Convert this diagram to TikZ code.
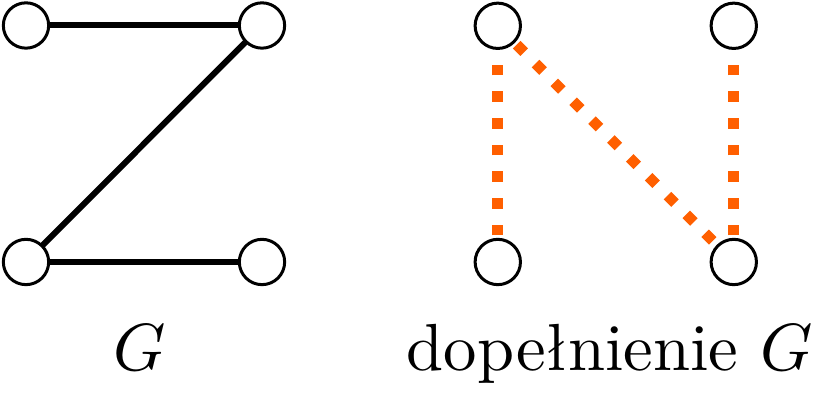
\documentclass[tikz,border=0pt]{standalone}
\usetikzlibrary{backgrounds}
\definecolor{dotorange}{RGB}{255,95,0}
\begin{document}
\begin{tikzpicture}[x=0.15pt,y=-0.15pt,
  vtx/.style={circle,draw=black,fill=white,line width=0.45pt,minimum size=6.8pt,inner sep=0pt},
  gedge/.style={line width=0.9pt,black},
  coedge/.style={line width=1.6pt,dotorange,dash pattern=on 1.6pt off 2.4pt},
  lbl/.style={inner sep=0pt,anchor=base,font=\fontsize{10}{12}\selectfont}]
\useasboundingbox (0,0) rectangle (835,404);
% graph G
\node[vtx] (a1) at (26,25.5) {};
\node[vtx] (a2) at (262,25.5) {};
\node[vtx] (a3) at (26,262) {};
\node[vtx] (a4) at (262,262) {};
% complement
\node[vtx] (b1) at (497.8,25.8) {};
\node[vtx] (b2) at (733.8,25.8) {};
\node[vtx] (b3) at (497.8,262) {};
\node[vtx] (b4) at (733.8,262) {};
\begin{pgfonlayer}{background}
\draw[gedge] (a1.center) -- (a2.center);
\draw[gedge] (a2.center) -- (a3.center);
\draw[gedge] (a3.center) -- (a4.center);
\draw[coedge] (b3.center) -- (b1.center);
\draw[coedge] (b4.center) -- (b2.center);
\draw[coedge] (b1.center) -- (b4.center);
\end{pgfonlayer}
\node[lbl] (lg) at (140,371) {$G$};
\node[lbl] (lc) at (610,371) {dopełnienie $G$};
\end{tikzpicture}
\end{document}
